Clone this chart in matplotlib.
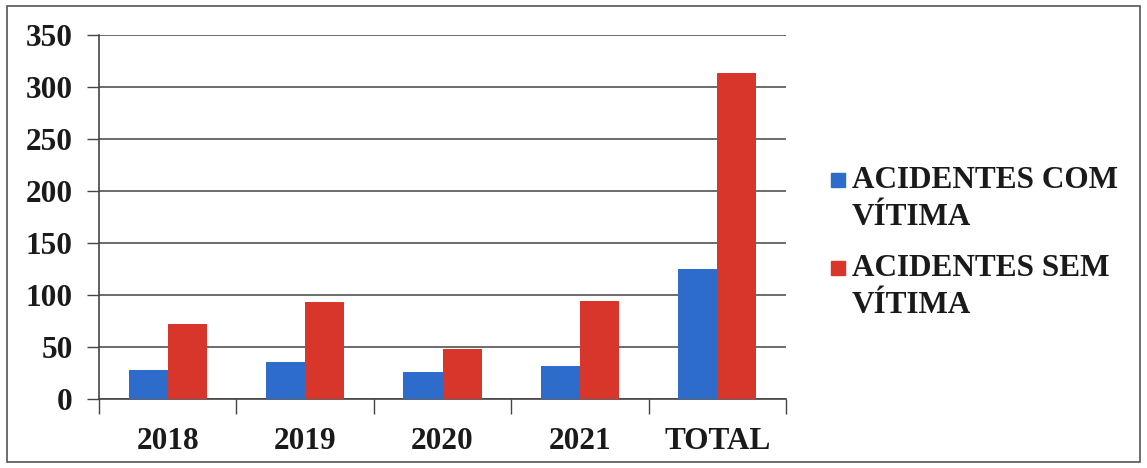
import matplotlib
matplotlib.use("Agg")
import matplotlib.pyplot as plt
import numpy as np
from matplotlib.patches import Rectangle

categories = ["2018", "2019", "2020", "2021", "TOTAL"]
com_vitima = [28, 36, 26, 32, 125]
sem_vitima = [72, 93, 48, 94, 313]
series_labels = ["ACIDENTES COM\nVÍTIMA", "ACIDENTES SEM\nVÍTIMA"]
y_ticks = [0, 50, 100, 150, 200, 250, 300, 350]

blue = "#2E6CCB"
red = "#D8352B"
font = "Liberation Serif"
fs = 22.5

W, H = 1147, 468
fig = plt.figure(figsize=(W / 100, H / 100), dpi=100)
fig.patch.set_facecolor("white")

# outer frame
fig.add_artist(Rectangle((7 / W, 6 / H), (1140 - 7) / W, (462 - 6) / H,
                         transform=fig.transFigure, fill=False,
                         edgecolor="#555555", linewidth=1.2))

ax = fig.add_axes([99 / W, (H - 399) / H, (786 - 99) / W, (399 - 35) / H])

x = np.arange(len(categories))
bw = 0.285
ax.bar(x - bw / 2, com_vitima, width=bw, color=blue, zorder=3)
ax.bar(x + bw / 2, sem_vitima, width=bw, color=red, zorder=3)

ax.set_xlim(-0.5, len(categories) - 0.5)
ax.set_ylim(0, 350)
ax.set_yticks(y_ticks)
ax.set_yticklabels([str(v) for v in y_ticks], fontfamily=font,
                   fontweight="bold", fontsize=fs, color="#1a1a1a")
ax.yaxis.grid(True, color="#444444", linewidth=1.1, zorder=0)
ax.tick_params(axis="y", direction="out", length=9, width=1.0,
               color="#444444", pad=10)

# category labels centred, ticks at category boundaries
ax.set_xticks(x)
ax.set_xticklabels(categories, fontfamily=font, fontweight="bold",
                   fontsize=fs, color="#1a1a1a")
ax.tick_params(axis="x", which="major", length=0, pad=20)
ax.set_xticks(np.arange(len(categories) + 1) - 0.5, minor=True)
ax.tick_params(axis="x", which="minor", direction="out", length=11,
               width=1.0, color="#444444")

for side in ("top", "right"):
    ax.spines[side].set_visible(False)
for side in ("left", "bottom"):
    ax.spines[side].set_color("#444444")
    ax.spines[side].set_linewidth(1.2)
ax.set_facecolor("white")

# legend drawn beside the plot
for (lbl, col, yc) in [(series_labels[0], blue, 180), (series_labels[1], red, 268)]:
    fig.add_artist(Rectangle((831 / W, (H - yc - 7) / H), 14 / W, 14 / H,
                             transform=fig.transFigure, color=col))
    fig.text(852 / W, (H - yc + 14) / H, lbl, fontfamily=font,
             fontweight="bold", fontsize=fs, va="top", ha="left",
             linespacing=1.35, color="#1a1a1a")

fig.savefig("out.png", dpi=100)
